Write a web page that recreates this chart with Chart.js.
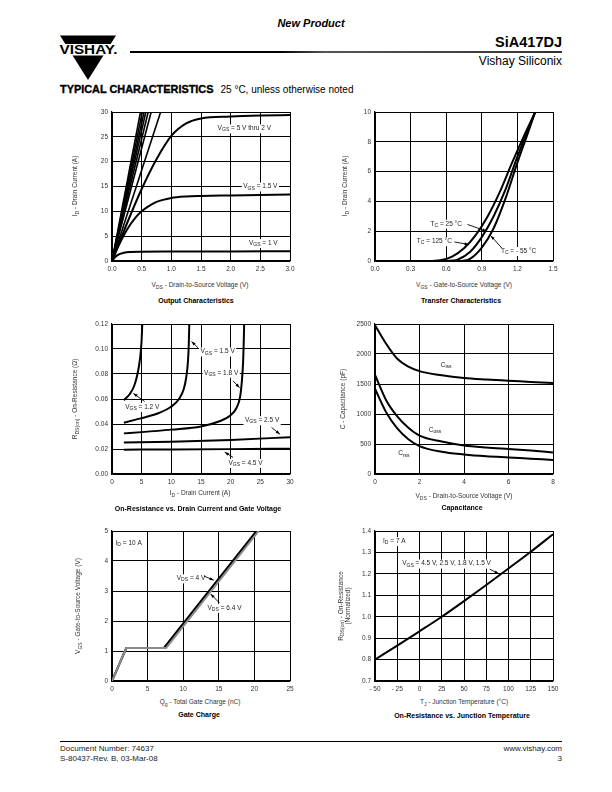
<!DOCTYPE html>
<html>
<head>
<meta charset="utf-8">
<script src="https://cdn.jsdelivr.net/npm/chart.js@4/dist/chart.umd.min.js"></script>
<style>
  body { margin: 0; background: #fff; font-family: "Liberation Sans", Arial, sans-serif; color: #000; }
  #page { position: relative; width: 612px; height: 792px; overflow: hidden; }
  .a { position: absolute; white-space: nowrap; line-height: 1; }
  canvas { position: absolute; }
  .xt { position: absolute; font-size: 6.5px; color: #333; white-space: nowrap; line-height: 1; transform: translateX(-50%); }
  .yt { position: absolute; font-size: 6.5px; color: #333; white-space: nowrap; line-height: 1.15; text-align: center; transform: translate(-50%, -50%) rotate(-90deg); }
  .cap { position: absolute; font-size: 7px; font-weight: bold; white-space: nowrap; line-height: 1; transform: translateX(-50%); }
  sub { font-size: 78%; vertical-align: -0.3em; line-height: 0; }
  .ft { font-size: 8px; color: #222; }
</style>
</head>
<body>
<div id="page">
  <div class="a" style="left:311px;top:18px;transform:translateX(-50%);font-size:11px;font-weight:bold;font-style:italic">New Product</div>
  <svg class="a" style="left:55px;top:30px" width="70" height="58" viewBox="55 30 70 58">
    <polygon points="60,35.5 116,35.5 88,80" fill="#000"/>
    <rect x="55" y="44" width="70" height="11.5" fill="#fff"/>
    <text x="88.5" y="53.8" text-anchor="middle" font-family="Liberation Sans, Arial, sans-serif" font-weight="bold" font-size="13" textLength="58" lengthAdjust="spacingAndGlyphs">VISHAY.</text>
  </svg>
  <div class="a" style="right:50px;top:35px;font-size:14.5px;font-weight:bold">SiA417DJ</div>
  <div style="position:absolute;left:130px;top:51px;width:432px;height:1.5px;background:linear-gradient(to right,#000 0%,#000 35%,#555 45%,#333 100%)"></div>
  <div class="a" style="right:50px;top:55px;font-size:12px">Vishay Siliconix</div>
  <div class="a" style="left:60px;top:84px;font-size:10.9px;font-weight:bold;-webkit-text-stroke:0.35px #000">TYPICAL CHARACTERISTICS<span style="font-weight:normal;font-size:10px;-webkit-text-stroke:0;margin-left:7px">25 °C, unless otherwise noted</span></div>

  <canvas id="c1"></canvas>
  <canvas id="c2"></canvas>
  <canvas id="c3"></canvas>
  <canvas id="c4"></canvas>
  <canvas id="c5"></canvas>
  <canvas id="c6"></canvas>

  <div class="yt" style="left:75px;top:186px">I<sub>D</sub> - Drain Current (A)</div>
  <div class="xt" style="left:200px;top:282px">V<sub>DS</sub> - Drain-to-Source Voltage (V)</div>
  <div class="cap" style="left:196px;top:297px">Output Characteristics</div>

  <div class="yt" style="left:345px;top:186px">I<sub>D</sub> - Drain Current (A)</div>
  <div class="xt" style="left:464px;top:282px">V<sub>GS</sub> - Gate-to-Source Voltage (V)</div>
  <div class="cap" style="left:461px;top:297px">Transfer Characteristics</div>

  <div class="yt" style="left:75px;top:399px">R<sub>DS(on)</sub> - On-Resistance (Ω)</div>
  <div class="xt" style="left:200px;top:490px">I<sub>D</sub> - Drain Current (A)</div>
  <div class="cap" style="left:198px;top:505px">On-Resistance vs. Drain Current and Gate Voltage</div>

  <div class="yt" style="left:343px;top:399px">C - Capacitance (pF)</div>
  <div class="xt" style="left:464px;top:493px">V<sub>DS</sub> - Drain-to-Source Voltage (V)</div>
  <div class="cap" style="left:462px;top:504px">Capacitance</div>

  <div class="yt" style="left:78px;top:606px">V<sub>GS</sub> - Gate-to-Source Voltage (V)</div>
  <div class="xt" style="left:200px;top:699px">Q<sub>g</sub> - Total Gate Charge (nC)</div>
  <div class="cap" style="left:199px;top:711px">Gate Charge</div>

  <div class="yt" style="left:344px;top:606px">R<sub>DS(on)</sub> - On-Resistance<br>(Normalized)</div>
  <div class="xt" style="left:464px;top:699px">T<sub>J</sub> - Junction Temperature (°C)</div>
  <div class="cap" style="left:462px;top:712px">On-Resistance vs. Junction Temperature</div>

  <div style="position:absolute;left:60px;top:741px;width:502px;height:1px;background:#000"></div>
  <div class="a ft" style="left:60px;top:745px">Document Number: 74637</div>
  <div class="a ft" style="left:60px;top:755px">S-80437-Rev. B, 03-Mar-08</div>
  <div class="a ft" style="right:50px;top:745px">www.vishay.com</div>
  <div class="a ft" style="right:50px;top:755px">3</div>
</div>

<script>
// ---- Output characteristics (VDS V, ID A)
const outVgs1 = [[0,0],[0.05,0.75],[0.1,1.25],[0.2,1.65],[0.3,1.82],[0.5,1.88],[1,1.9],[2,1.92],[3,1.95]];
const outVgs15 = [[0,0],[0.1,2.8],[0.2,5.2],[0.3,7.2],[0.4,8.8],[0.5,10.0],[0.6,10.9],[0.75,11.9],[1.0,12.7],[1.25,13.0],[1.5,13.1],[2,13.2],[2.5,13.3],[3,13.4]];
const outVgs2 = [[0,0],[0.25,7.5],[0.5,14.5],[0.75,20.5],[1.0,25.2],[1.25,27.7],[1.5,28.7],[2,29.1],[2.5,29.3],[3,29.4]];
const outSteepVds = [0.48, 0.51, 0.54, 0.57, 0.61, 0.66, 0.82]; // VDS where the 5 V .. 2.5 V lines reach 30 A
const outXTicks = [0, 0.5, 1, 1.5, 2, 2.5, 3];
const outYTicks = [0, 5, 10, 15, 20, 25, 30];

// ---- Transfer characteristics (VGS V, ID A)
const tr125 = [[0,0],[0.45,0],[0.55,0.05],[0.65,0.3],[0.75,0.85],[0.85,1.75],[0.95,3.0],[1.05,4.6],[1.15,6.5],[1.25,8.3],[1.35,10]];
const tr25 = [[0,0],[0.6,0],[0.7,0.1],[0.8,0.6],[0.9,1.6],[1.0,3.0],[1.1,4.8],[1.2,7.0],[1.28,8.6],[1.35,10]];
const trM55 = [[0,0],[0.7,0],[0.8,0.15],[0.9,0.9],[1.0,2.2],[1.1,4.2],[1.2,6.6],[1.28,8.4],[1.35,10]];
const trXTicks = [0, 0.3, 0.6, 0.9, 1.2, 1.5];
const trYTicks = [0, 2, 4, 6, 8, 10];

// ---- On-resistance vs drain current (ID A, RDS ohm)
const rVgs12 = [[2,0.059],[3,0.064],[3.7,0.07],[4.2,0.078],[4.6,0.088],[4.85,0.098],[5.0,0.108],[5.1,0.12],[5.15,0.13]];
const rVgs15 = [[2,0.041],[4,0.0435],[6,0.046],[8,0.049],[10,0.054],[11.3,0.06],[12.1,0.068],[12.5,0.077],[12.8,0.09],[12.95,0.105],[13.05,0.125]];
const rVgs18 = [[2,0.0325],[5,0.0335],[10,0.0355],[15,0.038],[18,0.042],[20,0.047],[21,0.053],[21.6,0.062],[21.9,0.075],[22.1,0.09],[22.2,0.105],[22.3,0.125]];
const rVgs25 = [[2,0.0252],[10,0.0258],[20,0.0272],[30,0.0295]];
const rVgs45 = [[2,0.0195],[10,0.0196],[20,0.0199],[30,0.0203]];
const rXTicks = [0, 5, 10, 15, 20, 25, 30];
const rYTicks = [0, 0.02, 0.04, 0.06, 0.08, 0.10, 0.12];

// ---- Capacitance (VDS V, pF)
const capVds = [0, 0.5, 1, 1.5, 2, 3, 4, 5, 6, 7, 8];
const capCiss = [2480, 2170, 1920, 1790, 1715, 1645, 1600, 1575, 1555, 1535, 1515];
const capCoss = [1650, 1230, 960, 770, 640, 540, 475, 440, 415, 390, 360];
const capCrss = [1420, 1030, 760, 580, 465, 370, 325, 295, 275, 255, 235];
const capXTicks = [0, 2, 4, 6, 8];
const capYTicks = [0, 500, 1000, 1500, 2000, 2500];

// ---- Gate charge (Qg nC, VGS V)
const gcQg4 = [0, 2, 7.3, 20.3];
const gcQg64 = [0, 2, 7.6, 20.6];
const gcVgs = [0, 1.1, 1.1, 5];
const gcXTicks = [0, 5, 10, 15, 20, 25];
const gcYTicks = [0, 1, 2, 3, 4, 5];

// ---- On-resistance vs junction temperature
const tjC = [-50, -25, 0, 25, 50, 75, 100, 125, 150];
const tjRnorm = [0.80, 0.865, 0.932, 1.0, 1.073, 1.148, 1.225, 1.303, 1.385];
const tjXTicks = [-50, -25, 0, 25, 50, 75, 100, 125, 150];
const tjYTicks = [0.7, 0.8, 0.9, 1.0, 1.1, 1.2, 1.3, 1.4];

const FONT = '"Liberation Sans", Arial, sans-serif';
const zip = (xs, ys) => xs.map((x, i) => [x, ys[i]]);

// labels inside plots, in data units; {} marks a subscript
const notes = {
  c1: [
    { t: 'V{GS} = 5 V thru 2 V', x: 2.23, y: 26.7 },
    { t: 'V{GS} = 1.5 V', x: 2.5, y: 15.0 },
    { t: 'V{GS} = 1 V', x: 2.55, y: 3.6 }
  ],
  c2: [
    { t: 'T{C} = 25 °C', x: 0.6, y: 2.5, arrow: [0.78, 2.45, 0.94, 2.0] },
    { t: 'T{C} = 125 °C', x: 0.5, y: 1.33, arrow: [0.67, 1.28, 0.79, 1.1] },
    { t: 'T{C} = - 55 °C', x: 1.21, y: 0.67, arrow: [1.07, 0.86, 0.975, 1.7] }
  ],
  c3: [
    { t: 'V{GS} = 1.5 V', x: 17.8, y: 0.098, arrow: [14.5, 0.101, 13.4, 0.106] },
    { t: 'V{GS} = 1.8 V', x: 18.4, y: 0.081, arrow: [20.4, 0.0745, 21.5, 0.069] },
    { t: 'V{GS} = 1.2 V', x: 5.1, y: 0.0536, arrow: [5.5, 0.058, 3.6, 0.0645] },
    { t: 'V{GS} = 2.5 V', x: 25.3, y: 0.043, arrow: [26.9, 0.0372, 28.3, 0.0319] },
    { t: 'V{GS} = 4.5 V', x: 22.5, y: 0.0088, arrow: [20.4, 0.0133, 19.0, 0.0175] }
  ],
  c4: [
    { t: 'C{iss}', x: 3.2, y: 1820 },
    { t: 'C{oss}', x: 2.7, y: 728 },
    { t: 'C{rss}', x: 1.3, y: 339 }
  ],
  c5: [
    { t: 'I{D} = 10 A', x: 0.5, y: 4.59, align: 'left' },
    { t: 'V{DS} = 4 V', x: 11.1, y: 3.42, arrow: [12.9, 3.5, 14.3, 3.36] },
    { t: 'V{DS} = 6.4 V', x: 15.8, y: 2.44, arrow: [15.1, 2.6, 13.85, 2.9] }
  ],
  c6: [
    { t: 'I{D} = 7 A', x: -41, y: 1.353, align: 'left' },
    { t: 'V{GS} = 4.5 V, 2.5 V, 1.8 V, 1.5 V', x: -19.5, y: 1.248, align: 'left', arrow: [79, 1.222, 89, 1.2] }
  ]
};

function richParts(ctx, str, size) {
  return str.split(/(\{[^}]*\})/).filter(s => s).map(s => {
    const sub = s[0] === '{';
    const t = sub ? s.slice(1, -1) : s;
    const fs = sub ? size * 0.78 : size;
    ctx.font = fs + 'px ' + FONT;
    return { t, sub, fs, w: ctx.measureText(t).width };
  });
}

function noteBox(chart, n) {
  const ctx = chart.ctx, size = 6.5;
  const parts = richParts(ctx, n.t, size);
  const w = parts.reduce((s, p) => s + p.w, 0);
  const px = chart.scales.x.getPixelForValue(n.x);
  const py = chart.scales.y.getPixelForValue(n.y);
  const x0 = n.align === 'left' ? px : px - w / 2;
  return { parts, w, x0, py, size };
}

const notesPlugin = {
  id: 'notes',
  beforeDatasetsDraw(chart) {
    const ctx = chart.ctx;
    (notes[chart.canvas.id] || []).forEach(n => {
      const b = noteBox(chart, n);
      ctx.save();
      ctx.fillStyle = '#fff';
      ctx.fillRect(b.x0 - 1.5, b.py - 4, b.w + 3, 9);
      ctx.restore();
    });
  },
  afterDatasetsDraw(chart) {
    const ctx = chart.ctx;
    (notes[chart.canvas.id] || []).forEach(n => {
      const b = noteBox(chart, n);
      ctx.save();
      ctx.fillStyle = '#222';
      ctx.textBaseline = 'middle';
      let x = b.x0;
      b.parts.forEach(p => {
        ctx.font = p.fs + 'px ' + FONT;
        ctx.fillText(p.t, x, b.py + (p.sub ? 1.6 : 0));
        x += p.w;
      });
      if (n.arrow) {
        const sx = chart.scales.x, sy = chart.scales.y;
        const x1 = sx.getPixelForValue(n.arrow[0]), y1 = sy.getPixelForValue(n.arrow[1]);
        const x2 = sx.getPixelForValue(n.arrow[2]), y2 = sy.getPixelForValue(n.arrow[3]);
        const ang = Math.atan2(y2 - y1, x2 - x1);
        ctx.strokeStyle = '#000';
        ctx.fillStyle = '#000';
        ctx.lineWidth = 0.9;
        ctx.beginPath();
        ctx.moveTo(x1, y1);
        ctx.lineTo(x2, y2);
        ctx.stroke();
        ctx.beginPath();
        ctx.moveTo(x2, y2);
        ctx.lineTo(x2 - 4.5 * Math.cos(ang - 0.35), y2 - 4.5 * Math.sin(ang - 0.35));
        ctx.lineTo(x2 - 4.5 * Math.cos(ang + 0.35), y2 - 4.5 * Math.sin(ang + 0.35));
        ctx.closePath();
        ctx.fill();
      }
      ctx.restore();
    });
  }
};

function curve(pts, opts = {}) {
  return {
    data: pts.map(p => ({ x: p[0], y: p[1] })),
    borderColor: opts.color || '#000',
    borderWidth: opts.width || 2,
    pointRadius: 0,
    fill: false,
    tension: 0,
    cubicInterpolationMode: opts.straight ? 'default' : 'monotone'
  };
}

function axis(min, max, ticks, fmt, isY) {
  return {
    type: 'linear',
    min: min,
    max: max,
    afterBuildTicks: s => { s.ticks = ticks.map(v => ({ value: v })); },
    afterFit: s => { if (isY) s.width = 34; else s.height = 16; },
    ticks: {
      callback: v => fmt(v),
      autoSkip: false,
      maxRotation: 0,
      padding: 4,
      color: '#333',
      font: { family: FONT, size: 6.5 }
    },
    grid: { color: '#000', lineWidth: 1, drawTicks: false },
    border: { color: '#000', width: 1.2 }
  };
}

// plot rectangle on the page: left, top, right, bottom
function makeChart(id, rect, datasets, xAxis, yAxis) {
  const cv = document.getElementById(id);
  const [L, T, R, B] = rect;
  cv.width = R - L + 48;
  cv.height = B - T + 24;
  cv.style.left = (L - 34) + 'px';
  cv.style.top = (T - 8) + 'px';
  new Chart(cv, {
    type: 'line',
    data: { datasets: datasets },
    options: {
      responsive: false,
      animation: false,
      events: [],
      layout: { padding: { top: 8, right: 14, left: 0, bottom: 0 } },
      plugins: { legend: { display: false }, tooltip: { enabled: false } },
      scales: { x: xAxis, y: yAxis }
    },
    plugins: [notesPlugin]
  });
}

const f1 = v => v.toFixed(1), f0 = v => String(v), f2 = v => v.toFixed(2);
const fNeg = v => v < 0 ? '- ' + Math.abs(v) : String(v);

makeChart('c1', [112, 112, 290, 261],
  [curve(outVgs1), curve(outVgs15), curve(outVgs2)]
    .concat(outSteepVds.map(v => curve([[0, 0], [v, 30]], { straight: true, width: 1.6 }))),
  axis(0, 3, outXTicks, f1, false), axis(0, 30, outYTicks, f0, true));

makeChart('c2', [375, 112, 553, 261],
  [curve(tr125), curve(tr25), curve(trM55)],
  axis(0, 1.5, trXTicks, f1, false), axis(0, 10, trYTicks, f0, true));

makeChart('c3', [112, 324, 290, 474],
  [curve(rVgs12), curve(rVgs15), curve(rVgs18), curve(rVgs25), curve(rVgs45)],
  axis(0, 30, rXTicks, f0, false), axis(0, 0.12, rYTicks, f2, true));

makeChart('c4', [375, 324, 553, 474],
  [curve(zip(capVds, capCiss)), curve(zip(capVds, capCoss)), curve(zip(capVds, capCrss))],
  axis(0, 8, capXTicks, f0, false), axis(0, 2500, capYTicks, f0, true));

makeChart('c5', [112, 531, 290, 681],
  [curve(zip(gcQg64, gcVgs), { straight: true, color: '#8a8a8a', width: 2 }),
   curve(zip(gcQg4, gcVgs), { straight: true, width: 2.2 })],
  axis(0, 25, gcXTicks, f0, false), axis(0, 5, gcYTicks, f0, true));

makeChart('c6', [375, 531, 553, 681],
  [curve(zip(tjC, tjRnorm))],
  axis(-50, 150, tjXTicks, fNeg, false), axis(0.7, 1.4, tjYTicks, f1, true));
</script>
</body>
</html>
